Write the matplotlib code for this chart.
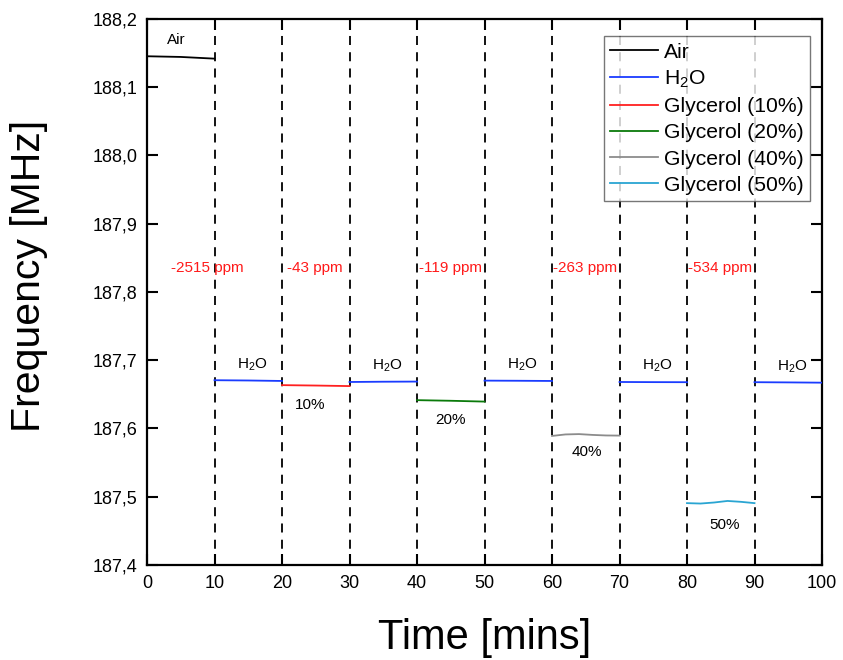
import matplotlib
matplotlib.use("Agg")
import matplotlib.pyplot as plt
import numpy as np

plt.rcParams['font.family'] = ['Liberation Sans', 'DejaVu Sans']
plt.rcParams['mathtext.fontset'] = 'custom'
plt.rcParams['mathtext.rm'] = 'Liberation Sans'
plt.rcParams['mathtext.it'] = 'Liberation Sans:italic'

# ---- data ----
air_time = [0, 5, 10]
air_freq = [188.1450, 188.1440, 188.1415]

h2o_times = [[10, 15, 20], [30, 35, 40], [50, 55, 60], [70, 75, 80], [90, 95, 100]]
h2o_freqs = [[187.6706, 187.6702, 187.6695],
             [187.6680, 187.6684, 187.6686],
             [187.6700, 187.6698, 187.6695],
             [187.6680, 187.6678, 187.6677],
             [187.6677, 187.6674, 187.6670]]

gly10_time = [20, 25, 30]
gly10_freq = [187.6634, 187.6628, 187.6620]
gly20_time = [40, 45, 50]
gly20_freq = [187.6414, 187.6405, 187.6393]
gly40_time = [60, 62, 64, 66, 68, 70]
gly40_freq = [187.5890, 187.5912, 187.5917, 187.5905, 187.5897, 187.5895]
gly50_time = [80, 82, 84, 86, 88, 90]
gly50_freq = [187.4906, 187.4900, 187.4915, 187.4938, 187.4925, 187.4906]

boundaries = [10, 20, 30, 40, 50, 60, 70, 80, 90]
ppm_labels = ['-2515 ppm', '-43 ppm', '-119 ppm', '-263 ppm', '-534 ppm']
ppm_x = [9.0, 24.9, 44.9, 64.9, 84.9]
ppm_y = 187.835

h2o_label_x = [15.6, 35.6, 55.6, 75.6, 95.6]
h2o_label_y = [187.693, 187.691, 187.693, 187.691, 187.690]
pct_labels = ['10%', '20%', '40%', '50%']
pct_x = [24.1, 44.9, 65.2, 85.5]
pct_y = [187.634, 187.613, 187.566, 187.459]

# ---- figure ----
fig = plt.figure(figsize=(8.43, 6.6), dpi=100)
ax = fig.add_axes([147/843, 1-565/660, (822-147)/843, (565-18.7)/660])

for b in boundaries:
    ax.axvline(b, color='black', ls=(0, (5, 4)), lw=1.3, zorder=1)

ax.plot(air_time, air_freq, color='black', lw=1.3, label='Air', zorder=3)
for i, (t, f) in enumerate(zip(h2o_times, h2o_freqs)):
    ax.plot(t, f, color='#1a3cff', lw=1.3, label='H$_2$O' if i == 0 else None, zorder=3)
ax.plot(gly10_time, gly10_freq, color='#ff2020', lw=1.3, label='Glycerol (10%)', zorder=3)
ax.plot(gly20_time, gly20_freq, color='#0a7a0a', lw=1.3, label='Glycerol (20%)', zorder=3)
ax.plot(gly40_time, gly40_freq, color='#8c8c8c', lw=1.3, label='Glycerol (40%)', zorder=3)
ax.plot(gly50_time, gly50_freq, color='#2aa5d2', lw=1.3, label='Glycerol (50%)', zorder=3)

fs = 11
ax.text(4.4, 188.169, 'Air', fontsize=fs, ha='center', va='center')
for x, y in zip(h2o_label_x, h2o_label_y):
    ax.text(x, y, 'H$_2$O', fontsize=fs, ha='center', va='center')
for s, x, y in zip(pct_labels, pct_x, pct_y):
    ax.text(x, y, s, fontsize=fs, ha='center', va='center')
for s, x in zip(ppm_labels, ppm_x):
    ax.text(x, ppm_y, s, fontsize=fs, ha='center', va='center', color='#ff1a1a')

ax.set_xlim(0, 100)
ax.set_ylim(187.4, 188.2)
ax.set_xticks(np.arange(0, 101, 10))
ax.set_yticks(np.arange(187.4, 188.21, 0.1))
ax.set_yticklabels([f'{v:.1f}'.replace('.', ',') for v in np.arange(187.4, 188.21, 0.1)])
ax.tick_params(direction='in', length=8, width=1.5, labelsize=13,
               top=True, right=True, pad=7)
for sp in ax.spines.values():
    sp.set_linewidth(1.6)

ax.set_xlabel('Time [mins]', fontsize=30, labelpad=19)
ax.set_ylabel('Frequency [MHz]', fontsize=29.5)
ax.yaxis.set_label_coords(-0.1467, 0.529)

leg = ax.legend(loc='upper right', bbox_to_anchor=(0.9825, 0.968), fontsize=15.2,
                frameon=True, fancybox=False, edgecolor='#555555',
                handlelength=2.25, handletextpad=0.3, labelspacing=0.34,
                borderpad=0.3, borderaxespad=0)
leg.get_frame().set_linewidth(1.0)

fig.savefig('out.png', dpi=100)
